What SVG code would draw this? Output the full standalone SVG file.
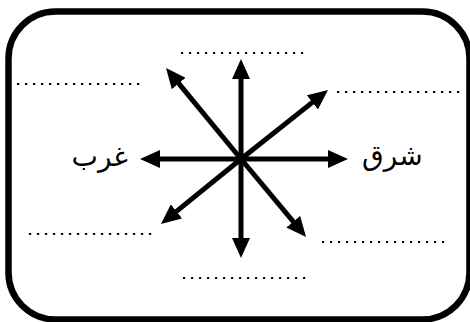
<svg xmlns="http://www.w3.org/2000/svg" width="470" height="322" viewBox="0 0 470 322">
  <style>
    .frame { fill: #fff; stroke: #000; stroke-width: 6.5; }
    .arrow { stroke: #000; stroke-width: 5; fill: none; marker-end: url(#head); }
    .dots { stroke: #000; stroke-width: 2.2; stroke-dasharray: 2.2 5.8; fill: none; }
    .lbl { font-family: "Liberation Sans", "DejaVu Sans", Arial, sans-serif; font-size: 28px; fill: #000; }
  </style>
  <defs>
    <marker id="head" markerUnits="userSpaceOnUse" markerWidth="20" markerHeight="18" refX="4" refY="9" orient="auto">
      <path d="M0,0 L20,9 L0,18 z" fill="#000"/>
    </marker>
  </defs>
  <rect width="470" height="322" fill="#fff"/>
  <g id="frame">
    <rect class="frame" x="8.5" y="11.5" width="461" height="308" rx="47" ry="47"/>
  </g>
  <g id="connectors">
    <line class="arrow" x1="241" y1="159" x2="241" y2="75"/>
    <line class="arrow" x1="241" y1="159" x2="241" y2="242"/>
    <line class="arrow" x1="241" y1="159" x2="332" y2="159"/>
    <line class="arrow" x1="241" y1="159" x2="156" y2="159"/>
    <line class="arrow" x1="241" y1="159" x2="315.5" y2="99.9"/>
    <line class="arrow" x1="241" y1="159" x2="176.2" y2="80.4"/>
    <line class="arrow" x1="241" y1="159" x2="173.4" y2="213.9"/>
    <line class="arrow" x1="241" y1="159" x2="295.8" y2="224.7"/>
  </g>
  <g id="label-west">
    <text class="lbl" x="128" y="166" text-anchor="end">غرب</text>
  </g>
  <g id="label-east">
    <text class="lbl" x="362" y="165" text-anchor="start">شرق</text>
  </g>
  <g id="blank-north"><line class="dots" x1="181" y1="53" x2="304" y2="53"/></g>
  <g id="blank-northwest"><line class="dots" x1="17" y1="84" x2="143" y2="84"/></g>
  <g id="blank-northeast"><line class="dots" x1="337" y1="92" x2="461" y2="92"/></g>
  <g id="blank-southwest"><line class="dots" x1="29" y1="234" x2="154" y2="234"/></g>
  <g id="blank-southeast"><line class="dots" x1="322" y1="242" x2="447" y2="242"/></g>
  <g id="blank-south"><line class="dots" x1="183" y1="278" x2="307" y2="278"/></g>
</svg>
